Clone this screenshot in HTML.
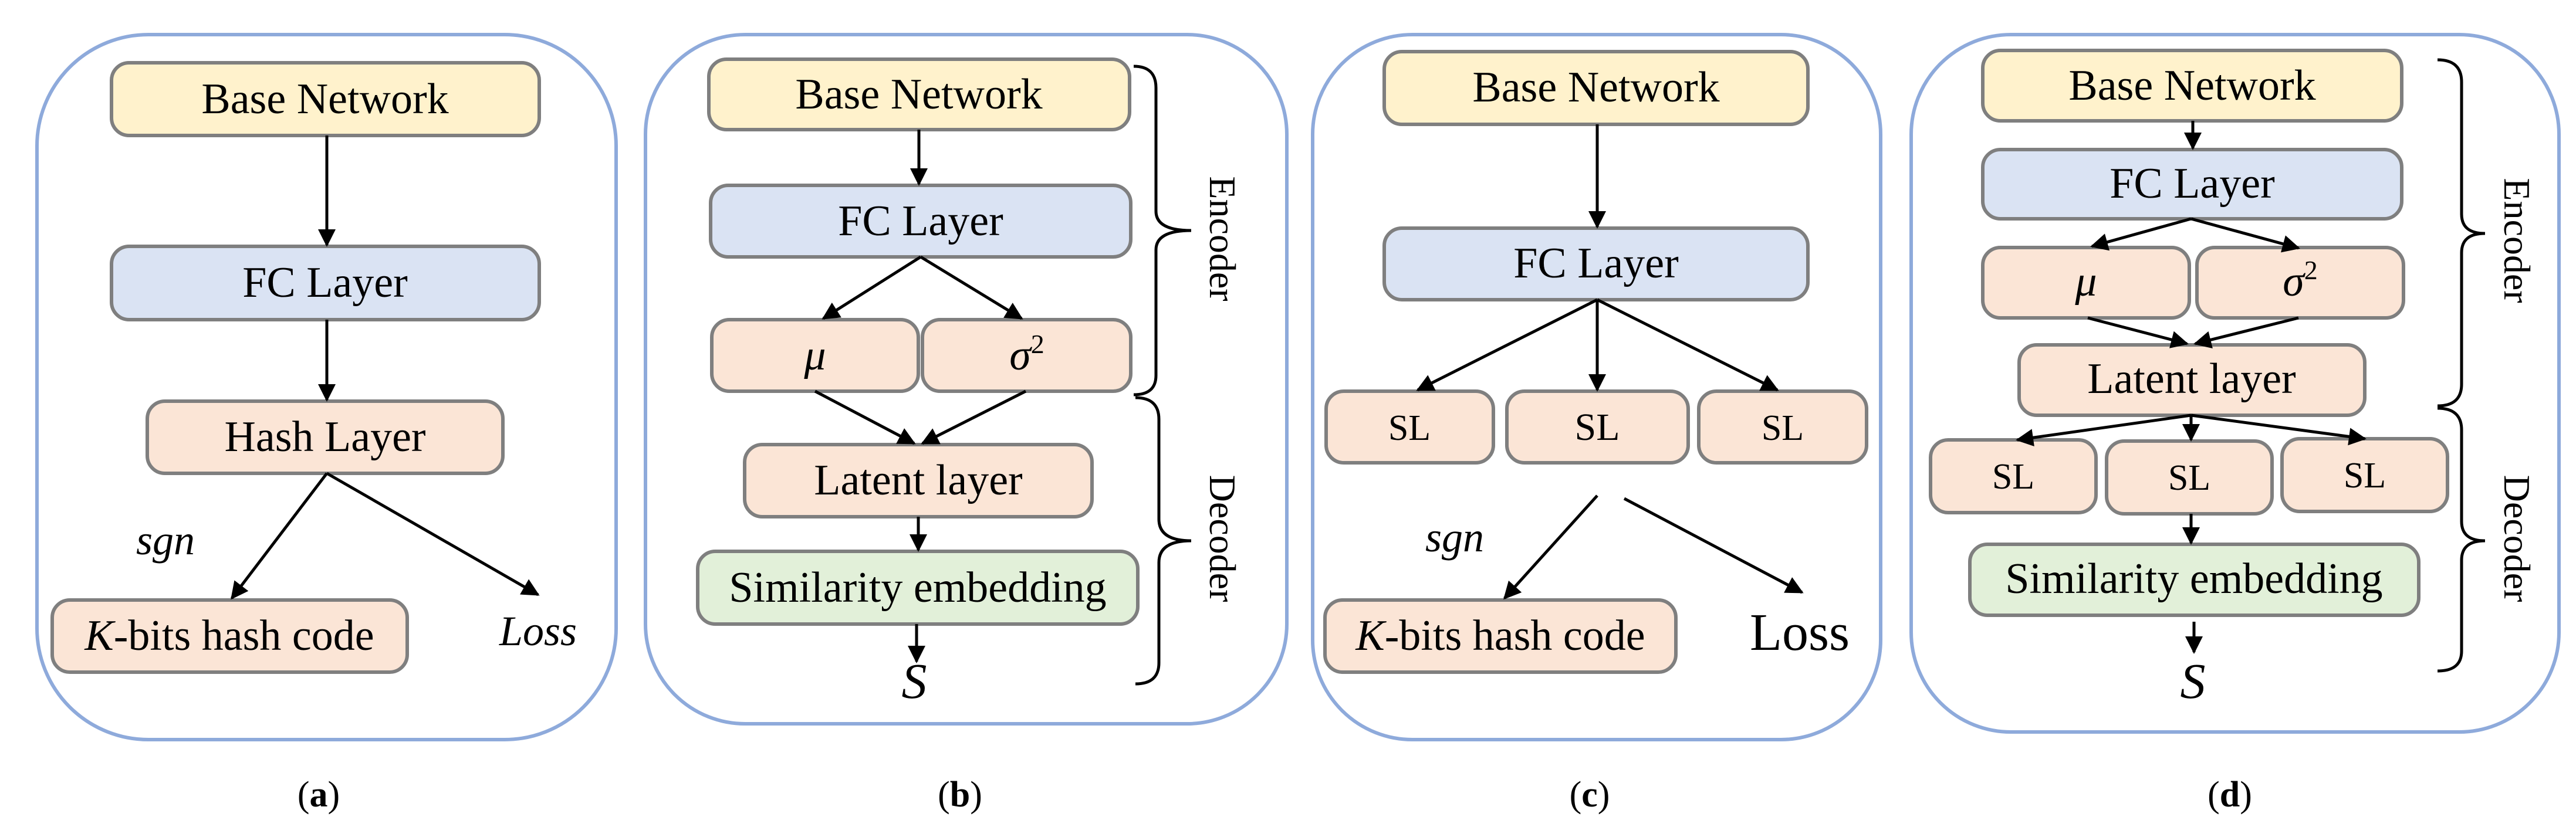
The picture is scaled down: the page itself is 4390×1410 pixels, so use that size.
<!DOCTYPE html>
<html><head><meta charset="utf-8"><style>
html,body{margin:0;padding:0;background:#fff;}
svg{display:block;}
svg text{font-family:"Liberation Serif","DejaVu Serif",serif !important;fill:#000;}
</style></head><body>
<svg width="4390" height="1410" viewBox="0 0 4390 1410" xmlns="http://www.w3.org/2000/svg" font-family="Liberation Serif, DejaVu Serif, serif" style="font-family:'Liberation Serif','DejaVu Serif',serif">
<defs>
<marker id="ar" viewBox="0 0 10 10" refX="9" refY="5" markerWidth="7" markerHeight="6" markerUnits="strokeWidth" orient="auto">
<path d="M0,0 L10,5 L0,10 z" fill="#000"/></marker>
</defs>
<g fill="none" stroke="#8eaadb" stroke-width="6">
<rect x="63" y="59" width="987" height="1202" rx="190"/>
<rect x="1100" y="59" width="1093" height="1175" rx="170"/>
<rect x="2237" y="59" width="968" height="1202" rx="170"/>
<rect x="3257" y="59" width="1104" height="1189" rx="170"/>
</g>
<g stroke="#7f7f7f" stroke-width="6">
<rect x="190" y="107" width="729" height="124" rx="30" fill="#fff2cc"/>
<rect x="190" y="420" width="729" height="125" rx="30" fill="#dae3f3"/>
<rect x="251" y="684" width="606" height="123" rx="30" fill="#fbe5d6"/>
<rect x="89" y="1023" width="605" height="123" rx="30" fill="#fbe5d6"/>
<rect x="1208" y="101" width="717" height="120" rx="30" fill="#fff2cc"/>
<rect x="1211" y="316" width="716" height="122" rx="30" fill="#dae3f3"/>
<rect x="1213" y="545" width="352" height="122" rx="30" fill="#fbe5d6"/>
<rect x="1572" y="545" width="355" height="122" rx="30" fill="#fbe5d6"/>
<rect x="1269" y="758" width="592" height="123" rx="30" fill="#fbe5d6"/>
<rect x="1189" y="940" width="750" height="124" rx="30" fill="#e2f0d9"/>
<rect x="2359" y="88" width="722" height="124" rx="30" fill="#fff2cc"/>
<rect x="2359" y="389" width="722" height="122" rx="30" fill="#dae3f3"/>
<rect x="2260" y="667" width="285" height="122" rx="30" fill="#fbe5d6"/>
<rect x="2568" y="667" width="309" height="122" rx="30" fill="#fbe5d6"/>
<rect x="2895" y="667" width="286" height="122" rx="30" fill="#fbe5d6"/>
<rect x="2258" y="1023" width="598" height="123" rx="30" fill="#fbe5d6"/>
<rect x="3379" y="86" width="714" height="120" rx="30" fill="#fff2cc"/>
<rect x="3379" y="255" width="714" height="118" rx="30" fill="#dae3f3"/>
<rect x="3379" y="422" width="352" height="120" rx="30" fill="#fbe5d6"/>
<rect x="3744" y="422" width="352" height="120" rx="30" fill="#fbe5d6"/>
<rect x="3441" y="588" width="589" height="120" rx="30" fill="#fbe5d6"/>
<rect x="3290" y="750" width="282" height="124" rx="30" fill="#fbe5d6"/>
<rect x="3590" y="752" width="282" height="124" rx="30" fill="#fbe5d6"/>
<rect x="3889" y="748" width="282" height="124" rx="30" fill="#fbe5d6"/>
<rect x="3357" y="928" width="765" height="121" rx="30" fill="#e2f0d9"/>
</g>
<g stroke="#000" stroke-width="5" fill="none" marker-end="url(#ar)">
<line x1="557" y1="231" x2="557" y2="418"/>
<line x1="557" y1="545" x2="557" y2="682"/>
<line x1="557" y1="807" x2="395" y2="1020"/>
<line x1="557" y1="807" x2="917" y2="1014"/>
<line x1="1566" y1="221" x2="1566" y2="314"/>
<line x1="1569" y1="438" x2="1403" y2="543"/>
<line x1="1569" y1="438" x2="1741" y2="543"/>
<line x1="1389" y1="667" x2="1558" y2="756"/>
<line x1="1748" y1="667" x2="1572" y2="756"/>
<line x1="1565" y1="881" x2="1565" y2="938"/>
<line x1="1562" y1="1064" x2="1562" y2="1128"/>
<line x1="2722" y1="212" x2="2722" y2="387"/>
<line x1="2722" y1="511" x2="2416" y2="665"/>
<line x1="2722" y1="511" x2="2722" y2="665"/>
<line x1="2722" y1="511" x2="3029" y2="665"/>
<line x1="2722" y1="845" x2="2564" y2="1020"/>
<line x1="2768" y1="850" x2="3071" y2="1010"/>
<line x1="3737" y1="206" x2="3737" y2="253"/>
<line x1="3734" y1="373" x2="3565" y2="420"/>
<line x1="3734" y1="373" x2="3917" y2="423"/>
<line x1="3558" y1="542" x2="3727" y2="586"/>
<line x1="3917" y1="542" x2="3741" y2="586"/>
<line x1="3734" y1="708" x2="3438" y2="750"/>
<line x1="3734" y1="708" x2="3734" y2="750"/>
<line x1="3734" y1="708" x2="4030" y2="748"/>
<line x1="3734" y1="876" x2="3734" y2="926"/>
<line x1="3739" y1="1060" x2="3739" y2="1112"/>
</g>
<g stroke="#000" stroke-width="5" fill="none">
<path d="M1932,113 Q1970,113 1970,150 L1970,360 Q1970,393 2030,393 Q1970,393 1970,426 L1970,640 Q1970,673 1932,673"/>
<path d="M1935,678 Q1975,678 1975,715 L1975,885 Q1975,922 2030,922 Q1975,922 1975,959 L1975,1130 Q1975,1166 1935,1166"/>
<path d="M4154,102 Q4195,102 4195,140 L4195,365 Q4195,398 4235,398 Q4195,398 4195,431 L4195,655 Q4195,692 4154,692"/>
<path d="M4154,696 Q4195,696 4195,733 L4195,889 Q4195,922 4235,922 Q4195,922 4195,955 L4195,1110 Q4195,1144 4154,1144"/>
</g>
<g font-size="74" text-anchor="middle">
<text x="554" y="193">Base Network</text>
<text x="554" y="506">FC Layer</text>
<text x="554" y="769">Hash Layer</text>
<text x="391" y="1108"><tspan font-style="italic">K</tspan>-bits hash code</text>
<text x="1566" y="185">Base Network</text>
<text x="1569" y="401">FC Layer</text>
<text x="1389" y="630" font-style="italic">μ</text>
<text x="1750" y="630"><tspan font-style="italic">σ</tspan><tspan font-size="46" dy="-28">2</tspan></text>
<text x="1565" y="843">Latent layer</text>
<text x="1564" y="1026">Similarity embedding</text>
<text x="2720" y="173">Base Network</text>
<text x="2720" y="473">FC Layer</text>
<text x="2402" y="750" font-size="62">SL</text>
<text x="2722" y="750" font-size="66">SL</text>
<text x="3038" y="750" font-size="62">SL</text>
<text x="2557" y="1108"><tspan font-style="italic">K</tspan>-bits hash code</text>
<text x="3736" y="170">Base Network</text>
<text x="3736" y="337">FC Layer</text>
<text x="3555" y="504" font-style="italic">μ</text>
<text x="3920" y="504"><tspan font-style="italic">σ</tspan><tspan font-size="46" dy="-28">2</tspan></text>
<text x="3735" y="670">Latent layer</text>
<text x="3431" y="833" font-size="62">SL</text>
<text x="3731" y="835" font-size="62">SL</text>
<text x="4030" y="831" font-size="62">SL</text>
<text x="3739" y="1011">Similarity embedding</text>
</g>
<g font-size="72" font-style="italic" text-anchor="middle">
<text x="282" y="945">sgn</text>
<text x="917" y="1100">Loss</text>
<text x="2479" y="940">sgn</text>
<text x="1558" y="1190" font-size="86">S</text>
<text x="3737" y="1190" font-size="86">S</text>
</g>
<text x="3067" y="1108" font-size="90" text-anchor="middle">Loss</text>
<g font-size="64" text-anchor="middle">
<text transform="translate(2062,407) rotate(90)">Encoder</text>
<text transform="translate(2062,918) rotate(90)">Decoder</text>
<text transform="translate(4268,410) rotate(90)">Encoder</text>
<text transform="translate(4268,918) rotate(90)">Decoder</text>
</g>
<g font-size="62" text-anchor="middle">
<text x="543" y="1375">(<tspan font-weight="bold">a</tspan>)</text>
<text x="1636" y="1375">(<tspan font-weight="bold">b</tspan>)</text>
<text x="2709" y="1375">(<tspan font-weight="bold">c</tspan>)</text>
<text x="3800" y="1375">(<tspan font-weight="bold">d</tspan>)</text>
</g>
</svg>
</body></html>
